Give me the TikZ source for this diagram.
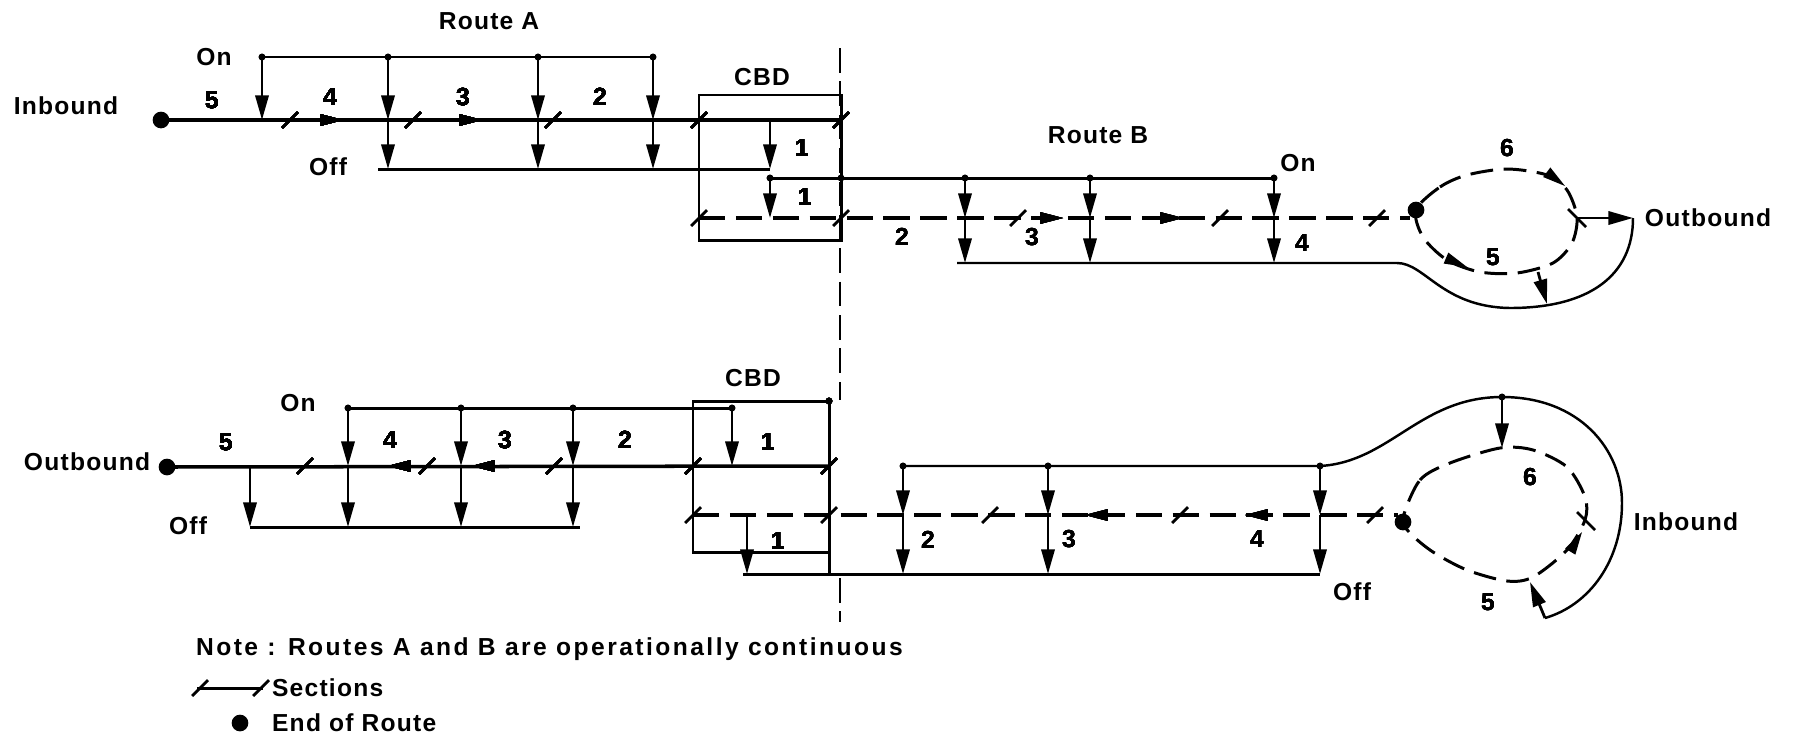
\documentclass[tikz,border=0pt]{standalone}
\usepackage{fontspec}
\setmainfont{Liberation Sans}[LetterSpace=5]
\usepackage{tikz}
\usetikzlibrary{arrows.meta}

% section mark, direction tip and junction dot
\newcommand\secttick[2]{\draw[secmark, shift={(#1,#2)}] (-4.5pt,-4.5pt) -- (4.5pt,4.5pt);}
\newcommand\flowtip[3]{\fill[shift={(#1,#2)}, rotate=#3] (0,0) -- (-13pt,3.4pt) -- (-13pt,-3.4pt) -- cycle;}
\newcommand\jdot[2]{\fill (#1,#2) circle (2pt);}

\begin{document}
\begin{tikzpicture}[x=0.02cm, y=-0.02cm,
    route/.style={line width=2pt},
    feeder/.style={line width=1.7pt},
    loopline/.style={line width=1.4pt},
    dashroute/.style={line width=1.9pt, dash pattern=on 15pt off 6pt},
    dashloop/.style={line width=1.7pt, dash pattern=on 13pt off 6pt},
    divider/.style={line width=1.1pt, dash pattern=on 14pt off 5pt},
    drop/.style={line width=1.6pt, -{Triangle[length=14pt,width=7.5pt]}},
    secmark/.style={line width=1.6pt},
    enddot/.style={circle, fill, inner sep=0pt, minimum size=9.5pt},
    lbl/.style={font=\bfseries\fontsize{14}{16}\selectfont, inner sep=1pt}]
  \useasboundingbox (0,0) rectangle (1793,738);

  % ---------- upper diagram: Route A inbound ----------
  \node[enddot] (startA) at (161,120) {};
  \node[lbl] (inbA) at (66,106) {Inbound};
  \node[lbl] (routeA) at (489,21) {Route A};
  \node[lbl] (onA) at (214,57) {On};
  \node[lbl] (offA) at (328,167) {Off};
  \node[lbl] (cbdA) at (762,77) {CBD};
  \draw[route] (startA.center) -- (841,120);
  \draw[feeder] (262,57) -- (653,57);
  \draw[feeder] (378,169) -- (770,169);
  \draw[feeder] (699,95) rectangle (841,240);
  \draw[drop] (262,57) -- (262,120);
  \foreach \x in {388,538,653} {
    \draw[drop] (\x,57) -- (\x,120);
    \draw[drop] (\x,120) -- (\x,169);
  }
  \draw[drop] (770,120) -- (770,169);
  \foreach \x in {262,388,538,653} \jdot{\x}{57}
  \foreach \x in {290,413,553,699,841} \secttick{\x}{120}
  \flowtip{343}{120}{0}
  \flowtip{482}{120}{0}
  \foreach \x/\y/\n in {212/100/5, 330/97/4, 463/97/3, 600/97/2, 802/148/1, 805/197/1}
    \node[lbl] (numA\x) at (\x,\y) {\n};

  % ---------- upper diagram: Route B outbound ----------
  \node[lbl] (routeB) at (1098,135) {Route B};
  \node[lbl] (onB) at (1298,163) {On};
  \node[enddot] (endB) at (1416,210) {};
  \node[lbl] (outB) at (1708,218) {Outbound};
  \coordinate (outBtip) at (1633,218);
  \draw[feeder] (770,178) -- (1274,178);
  \draw[drop] (770,178) -- (770,218);
  \draw[dashroute] (699,218) -- (1410,218);
  \foreach \x in {965,1090,1274} {
    \draw[drop] (\x,178) -- (\x,218);
    \draw[drop] (\x,218) -- (\x,263);
    \jdot{\x}{178}
  }
  \jdot{770}{178} \jdot{841}{178}
  \foreach \x in {699,841,1018,1220,1377} \secttick{\x}{218}
  \flowtip{1063}{218}{0}
  \flowtip{1183}{218}{0}
  \foreach \x/\y/\n in {902/237/2, 1032/237/3, 1302/243/4, 1507/148/6, 1493/257/5}
    \node[lbl] (numB\x) at (\x,\y) {\n};
  % turning loop
  \draw[dashloop] plot[smooth cycle] coordinates {(1416,210) (1440,187) (1467,175) (1507,169)
    (1547,175) (1567,190) (1577,217) (1572,243) (1553,263) (1517,273) (1480,272) (1447,260) (1423,237)};
  \draw[loopline] (957,263) -- (1397,263) .. controls (1425,263) and (1442,307) .. (1510,308)
    .. controls (1590,308) and (1633,275) .. (outBtip);
  \draw[drop] (1577,218) -- (outBtip);
  \draw[secmark] (1568,209) -- (1586,227);
  \draw[drop] (1538,272) -- (1547,304);
  \flowtip{1467}{267}{-23}
  \flowtip{1565}{186}{-37}

  % dividing line
  \draw[divider] (840,48) -- (840,400);
  \draw[divider] (840,578) -- (840,622);

  % ---------- lower diagram: Route A outbound ----------
  \node[enddot] (startC) at (167,467) {};
  \node[lbl] (outC) at (87,462) {Outbound};
  \node[lbl] (onC) at (298,403) {On};
  \node[lbl] (offC) at (188,526) {Off};
  \node[lbl] (cbdC) at (753,378) {CBD};
  \draw[route] (startC.center) -- (829,466);
  \draw[feeder] (348,408) -- (732,408);
  \draw[feeder] (250,527) -- (580,527);
  \draw[feeder] (693,401) rectangle (829,552);
  \draw[feeder] (829,552) -- (829,574);
  \draw[drop] (250,466) -- (250,527);
  \foreach \x in {348,461,573} {
    \draw[drop] (\x,408) -- (\x,466);
    \draw[drop] (\x,466) -- (\x,527);
  }
  \draw[drop] (732,408) -- (732,466);
  \foreach \x in {348,461,573,732} \jdot{\x}{408}
  \jdot{829}{401}
  \foreach \x in {305,427,554,693,829} \secttick{\x}{466}
  \flowtip{388}{466}{180}
  \flowtip{472}{466}{180}
  \foreach \x/\y/\n in {226/442/5, 390/440/4, 505/440/3, 625/440/2, 768/442/1, 778/541/1}
    \node[lbl] (numC\x) at (\x,\y) {\n};

  % ---------- lower diagram: Route B inbound ----------
  \node[enddot] (endD) at (1403,522) {};
  \node[lbl] (offD) at (1352,592) {Off};
  \node[lbl] (inbD) at (1686,522) {Inbound};
  \draw[dashroute] (693,515) -- (1398,515);
  \draw[feeder] (743,574) -- (1320,574);
  \draw[drop] (747,515) -- (747,574);
  \foreach \x in {903,1048,1320} {
    \draw[drop] (\x,466) -- (\x,515);
    \draw[drop] (\x,515) -- (\x,574);
    \jdot{\x}{466}
  }
  \foreach \x in {693,829,990,1180,1375} \secttick{\x}{515}
  \flowtip{1085}{515}{180}
  \flowtip{1245}{515}{180}
  \foreach \x/\y/\n in {928/540/2, 1069/539/3, 1257/539/4, 1530/477/6, 1488/602/5}
    \node[lbl] (numD\x) at (\x,\y) {\n};
  % turning loop
  \draw[dashloop] plot[smooth cycle] coordinates {(1403,518) (1420,480) (1450,463) (1500,448)
    (1533,450) (1567,467) (1585,497) (1585,520) (1567,550) (1533,577) (1507,581) (1467,570) (1433,552) (1410,533)};
  \draw[loopline] (903,466) -- (1320,466) .. controls (1390,462) and (1420,397) .. (1502,397)
    .. controls (1580,397) and (1622,450) .. (1622,503)
    .. controls (1622,560) and (1590,605) .. (1545,618);
  \jdot{1502}{397}
  \draw[drop] (1502,397) -- (1502,448);
  \draw[drop] (1545,618) -- (1530,582);
  \draw[secmark] (1577,512) -- (1595,530);
  \flowtip{1582}{532}{59}

  % ---------- legend ----------
  \node[lbl, anchor=west] (note) at (194,649) {\addfontfeature{LetterSpace=10}Note : Routes A and B are operationally continuous};
  \draw[feeder] (197,688) -- (263,688);
  \secttick{200}{688}
  \secttick{261}{688}
  \node[lbl, anchor=west] (secttext) at (270,688) {Sections};
  \node[enddot] (legdot) at (240,723) {};
  \node[lbl, anchor=west] (endtext) at (270,723) {End of Route};
\end{tikzpicture}
\end{document}
